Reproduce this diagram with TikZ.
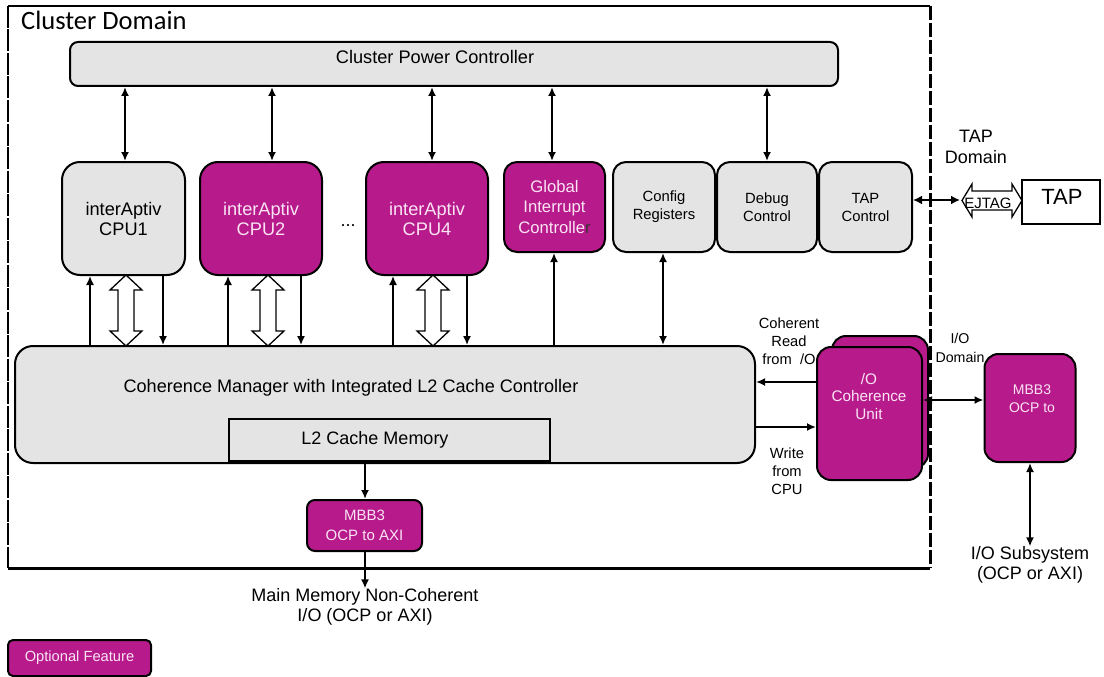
\documentclass[tikz,border=0pt]{standalone}
\usepackage{fontspec}
\setmainfont{Liberation Sans}
\newfontfamily\calib{Carlito}
\usetikzlibrary{arrows.meta,calc}
\definecolor{purp}{RGB}{183,26,139}
\definecolor{gfill}{RGB}{228,228,228}
\definecolor{ptext}{RGB}{250,228,244}
\newcommand\fs[2]{\fontsize{#1}{#2}\selectfont}
\newcommand\hollowv[3]{% x, ytop, ybottom
  \draw[hollow] (#1,#2) -- (#1-16,#2+15) -- (#1-8,#2+15) -- (#1-8,#3-15) -- (#1-16,#3-15) -- (#1,#3)
   -- (#1+16,#3-15) -- (#1+8,#3-15) -- (#1+8,#2+15) -- (#1+16,#2+15) -- cycle;}
\tikzset{
  gbox/.style={draw, line width=2pt, fill=gfill, inner sep=0pt},
  pbox/.style={draw, line width=2pt, fill=purp, text=ptext, inner sep=0pt},
  arr/.style={line width=1.8pt, -{Latex[length=9pt,width=8pt]}},
  darr/.style={line width=1.8pt, {Latex[length=9pt,width=8pt]}-{Latex[length=9pt,width=8pt]}},
  hollow/.style={draw, line width=1.3pt, fill=white, line join=miter},
  lbl/.style={inner sep=0pt, align=center},
}
\begin{document}
\begin{tikzpicture}[x=1pt,y=-1pt]
\useasboundingbox[fill=white] (0,0) rectangle (1104,677);

% cluster domain border
\draw[line width=1.5pt] (8,6) -- (930,6);
\draw[line width=1.3pt, dash pattern=on 22pt off 1.5pt] (8,6) -- (8,568);
\draw[line width=3pt] (8,568) -- (930,568);
\draw[line width=3pt, dash pattern=on 14pt off 3pt] (930,6) -- (930,568);
\node[lbl, anchor=west, font=\calib\fs{26.5}{28}] (cdom) at (21,20) {Cluster Domain};

% cluster power controller
\node[gbox, rounded corners=8pt, minimum width=768pt, minimum height=44pt] (cpc) at (454,64) {};
\node[lbl, font=\fs{18.2}{20}] (cpct) at (435,57) {Cluster Power Controller};

% CPUs
\node[gbox, rounded corners=18pt, minimum width=123pt, minimum height=113pt, font=\fs{18.2}{20}, align=center] (cpu1) at (123.5,218.5) {interAptiv\\CPU1};
\node[pbox, rounded corners=18pt, minimum width=122pt, minimum height=113pt, font=\fs{18.2}{20}, align=center] (cpu2) at (261,218.5) {interAptiv\\CPU2};
\node[pbox, rounded corners=18pt, minimum width=122pt, minimum height=113pt, font=\fs{18.2}{20}, align=center] (cpu4) at (427,218.5) {interAptiv\\CPU4};
\node[lbl, font=\fs{18}{20}] (dots) at (348,226) {...};

\node[pbox, rounded corners=13pt, minimum width=101pt, minimum height=90pt, font=\fs{16.7}{20.5}, align=center] (gic) at (554.5,207) {Global\\Interrupt\\Controlle{\color{black!80}r}};
\node[gbox, rounded corners=13pt, minimum width=102pt, minimum height=90pt, font=\fs{14.8}{18}, align=center] (cfg) at (664,207) {Config\\Registers};
\node[gbox, rounded corners=13pt, minimum width=100pt, minimum height=90pt, font=\fs{14.8}{18}, align=center] (dbg) at (767,207) {Debug\\Control};
\node[gbox, rounded corners=13pt, minimum width=93pt, minimum height=90pt, font=\fs{14.8}{18}, align=center] (tapc) at (865.5,207) {TAP\\Control};

% coherence manager
\node[gbox, rounded corners=18pt, minimum width=740pt, minimum height=117pt] (cm) at (385,404.5) {};
\node[lbl, font=\fs{18.1}{20}] (cmt) at (351,388) {Coherence Manager with Integrated L2 Cache Controller};
\node[draw, line width=2pt, fill=gfill, minimum width=321pt, minimum height=42pt, inner sep=0pt] (l2) at (389.5,440) {};
\node[lbl, font=\fs{18}{20}] (l2t) at (375,440) {L2 Cache Memory};

% MBB3 bottom
\node[pbox, rounded corners=8pt, minimum width=115pt, minimum height=51pt, font=\fs{15}{20.5}, align=center] (mbb) at (364.5,525.5) {MBB3\\OCP to AXI};
\node[lbl, font=\fs{18}{20}] (mm) at (365,607) {Main Memory Non-Coherent\\I/O (OCP or AXI)};

% IO coherence unit
\node[pbox, rounded corners=14pt, minimum width=96pt, minimum height=132pt] (iocub) at (880,402) {};
\node[pbox, rounded corners=14pt, minimum width=105pt, minimum height=133pt] (iocu) at (869.5,413.5) {};
\node[lbl, font=\fs{15.3}{17.5}, text=ptext] (iocut) at (869,396.5) {/O\\Coherence\\Unit};

\node[lbl, font=\fs{14.7}{18}] (crd) at (789,341) {Coherent\\Read\\from \ /O};
\node[lbl, font=\fs{14.7}{18}] (wcpu) at (787,471) {Write\\from\\CPU};
\node[lbl, font=\fs{14.2}{19}] (iod) at (960,347.5) {I/O\\Domain};

% MBB3 right
\node[pbox, rounded corners=14pt, minimum width=91pt, minimum height=108pt] (mbbr) at (1030,408) {};
\node[lbl, font=\fs{14}{18}, text=ptext] (mbbrt) at (1032,399) {MBB3\\OCP to};
\node[lbl, font=\fs{18}{20}] (iosub) at (1030,565) {I/O Subsystem\\(OCP or AXI)};

% TAP
\node[lbl, font=\fs{18}{21}] (tapd) at (976,146.5) {TAP\\Domain};
\node[draw, line width=1.5pt, fill=white, minimum width=78pt, minimum height=44pt, inner sep=0pt] (tap) at (1061,202) {};
\node[lbl, font=\fs{22}{24}] (tapt) at (1062,197) {TAP};

% legend
\node[pbox, rounded corners=5pt, minimum width=143pt, minimum height=36pt, font=\fs{14.7}{16}] (leg) at (79.5,658) {Optional Feature};

% ---- connectors ----
\coordinate (x125) at (125,0);
\coordinate (x272) at (272,0);
\coordinate (x432) at (432,0);
\coordinate (x552) at (552,0);
\coordinate (x767) at (767,0);
\draw[darr, line width=2.3pt] (x125 |- cpc.south) -- (x125 |- cpu1.north);
\draw[darr, line width=2.3pt] (x272 |- cpc.south) -- (x272 |- cpu2.north);
\draw[darr, line width=2.3pt] (x432 |- cpc.south) -- (x432 |- cpu4.north);
\draw[darr, line width=2.3pt] (x552 |- cpc.south) -- (x552 |- gic.north);
\draw[darr] (x767 |- cpc.south) -- (x767 |- dbg.north);

\coordinate (u1) at (90,0);  \coordinate (d1) at (163,0);
\coordinate (u2) at (228,0); \coordinate (d2) at (301,0);
\coordinate (u4) at (393,0); \coordinate (d4) at (467,0);
\coordinate (ug) at (554,0); \coordinate (uc) at (663,0);
\draw[arr, line width=1.5pt] (u1 |- cm.north) -- (u1 |- cpu1.south);
\draw[arr, line width=1.5pt] (d1 |- cpu1.south) -- (d1 |- cm.north);
\draw[arr, line width=1.5pt] (u2 |- cm.north) -- (u2 |- cpu2.south);
\draw[arr, line width=1.5pt] (d2 |- cpu2.south) -- (d2 |- cm.north);
\draw[arr, line width=1.5pt] (u4 |- cm.north) -- (u4 |- cpu4.south);
\draw[arr, line width=1.5pt] (d4 |- cpu4.south) -- (d4 |- cm.north);
\draw[arr, line width=1.8pt] (ug |- cm.north) -- (ug |- gic.south);
\draw[darr] (uc |- cfg.south) -- (uc |- cm.north);

\hollowv{126}{275}{346}
\hollowv{268}{275}{346}
\hollowv{433}{275}{346}

% coherence manager <-> IOCU
\coordinate (yrd) at (0,382);
\coordinate (ywr) at (0,427);
\draw[arr] (iocu.west |- yrd) -- (cm.east |- yrd);
\draw[arr] (cm.east |- ywr) -- (iocu.west |- ywr);
\coordinate (yio) at (0,400);
\draw[darr] (iocu.east |- yio) -- (mbbr.west |- yio);
\draw[darr, line width=2.3pt] (mbbr.south) -- (iosub.north);

% L2 -> MBB3 -> main memory
\coordinate (xm) at (365,0);
\draw[arr] (xm |- l2.south) -- (xm |- mbb.north);
\draw[arr] (xm |- mbb.south) -- (mm.north);

% TAP control <-> EJTAG
\coordinate (ty) at (0,200);
\coordinate (tj) at (960,200);
\draw[line width=2.6pt, {Latex[length=9pt,width=9pt]}-{Latex[length=9pt,width=9pt]}] (tapc.east |- ty) -- (tj);
\draw[hollow] (962,200.5) -- (972,184) -- (972,191) -- (1012,191) -- (1012,184) -- (1022,200.5)
  -- (1012,217) -- (1012,210) -- (972,210) -- (972,217) -- cycle;
\node[lbl, font=\fs{15}{16}] (ejtag) at (988,203) {EJTAG};
\end{tikzpicture}
\end{document}
